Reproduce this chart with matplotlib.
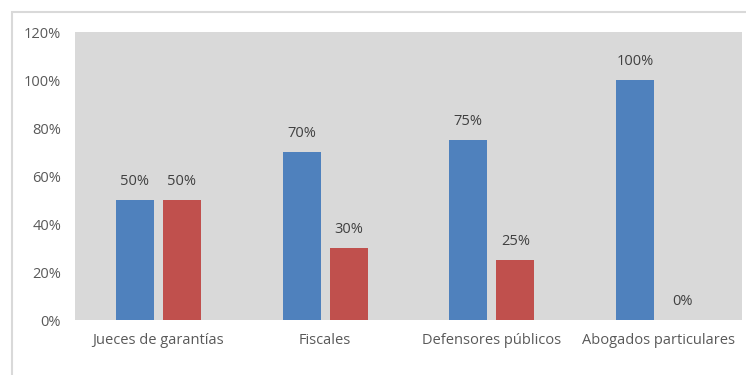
import matplotlib
matplotlib.use('Agg')
import matplotlib.pyplot as plt
import numpy as np
from matplotlib.patches import Rectangle

categories = ['Jueces de garantías', 'Fiscales', 'Defensores públicos', 'Abogados particulares']
serie_a = [50, 70, 75, 100]
serie_b = [50, 30, 25, 0]
y_ticks = [0, 20, 40, 60, 80, 100, 120]

plt.rcParams['font.family'] = ['Open Sans', 'DejaVu Sans']

fig = plt.figure(figsize=(7.46, 3.75), dpi=100)
fig.patches.append(Rectangle((12 / 746, -0.05), 1.0, 1 - 12 / 375 + 0.05,
                             transform=fig.transFigure, fill=False,
                             edgecolor='#d9d9d9', linewidth=1.5))
ax = fig.add_axes([75 / 746, 1 - 320 / 375, 667 / 746, 288 / 375])
ax.set_facecolor('#d9d9d9')

x = np.arange(len(categories))
w = 0.228
off = (w + 0.054) / 2
b1 = ax.bar(x - off, serie_a, w, color='#4f81bd')
b2 = ax.bar(x + off, serie_b, w, color='#c0504d')
for bars in (b1, b2):
    ax.bar_label(bars, labels=[f'{v:g}%' for v in bars.datavalues],
                 padding=8, fontsize=10.5, color='#404040')

ax.set_xlim(-0.5, len(categories) - 0.5)
ax.set_ylim(0, 120)
ax.set_yticks(y_ticks)
ax.set_yticklabels([f'{t}%' for t in y_ticks])
ax.set_xticks(x)
ax.set_xticklabels(categories)
ax.tick_params(length=0, labelsize=10.5, labelcolor='#595959')
ax.tick_params(axis='y', pad=10)
ax.tick_params(axis='x', pad=9)
for s in ax.spines.values():
    s.set_visible(False)

fig.savefig('out.png', dpi=100)
